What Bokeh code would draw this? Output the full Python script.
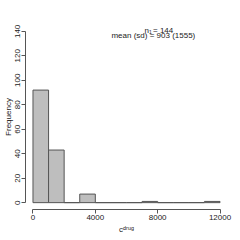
from bokeh.plotting import figure
from bokeh.models import FixedTicker, Label, Range1d
from bokeh.embed import file_html
from bokeh.resources import INLINE

# data
bin_left = [0, 1000, 2000, 3000, 4000, 5000, 6000, 7000, 8000, 9000, 10000, 11000]
bin_right = [1000, 2000, 3000, 4000, 5000, 6000, 7000, 8000, 9000, 10000, 11000, 12000]
counts = [92, 43, 0, 7, 0, 0, 0, 1, 0, 0, 0, 1]
x_ticks = [0, 4000, 8000, 12000]
y_ticks = [0, 20, 40, 60, 80, 100, 120, 140]
n_text = "144"
mean_text = "mean (sd) = 903 (1555)"
x_label = "c\u1d48\u02b3\u1d58\u1d4d"
y_label = "Frequency"

FONT = "Liberation Sans"
FS = "8px"

p = figure(width=240, height=240, output_backend="svg", toolbar_location=None,
           x_range=Range1d(-480, 12480), y_range=Range1d(-5.6, 145.6),
           min_border_left=24, min_border_right=13, min_border_top=24, min_border_bottom=31)
p.outline_line_color = None
p.grid.visible = False
p.background_fill_color = "white"

p.quad(left=bin_left, right=bin_right, bottom=0, top=counts,
       fill_color="#BEBEBE", line_color="#555555", line_width=1)

for ax, ticks, bounds in ((p.xaxis[0], x_ticks, (0, 12000)), (p.yaxis[0], y_ticks, (0, 140))):
    ax.ticker = FixedTicker(ticks=ticks)
    ax.bounds = bounds
    ax.axis_line_color = "#555555"
    ax.major_tick_line_color = "#555555"
    ax.major_tick_out = 4
    ax.major_tick_in = 0
    ax.minor_tick_line_color = None
    ax.major_label_text_font = FONT
    ax.major_label_text_font_size = FS
    ax.major_label_text_color = "#222222"
    ax.major_label_standoff = 1
    ax.axis_label_text_font = FONT
    ax.axis_label_text_font_size = FS
    ax.axis_label_text_font_style = "normal"
    ax.axis_label_text_color = "#222222"
    ax.axis_label_standoff = 0
p.yaxis[0].major_label_orientation = "vertical"
p.xaxis[0].axis_label = x_label
p.yaxis[0].axis_label = y_label
p.xaxis[0].axis_label_standoff = 2


def lab(x, y, text, size=FS, align="center", baseline="middle", xo=0, yo=0):
    p.add_layout(Label(x=x, y=y, text=text, text_font=FONT, text_font_size=size,
                       text_align=align, text_baseline=baseline,
                       x_offset=xo, y_offset=yo, text_color="#222222"))


lab(7724, 136.6, mean_text)
lab(7150, 140.9, "n", align="left")
lab(7150, 140.9, "1", size="5px", align="left", xo=4.6, yo=-2)
lab(7150, 140.9, "= " + n_text, align="left", xo=8.6)

open("out.html", "w").write(file_html(p, INLINE))
